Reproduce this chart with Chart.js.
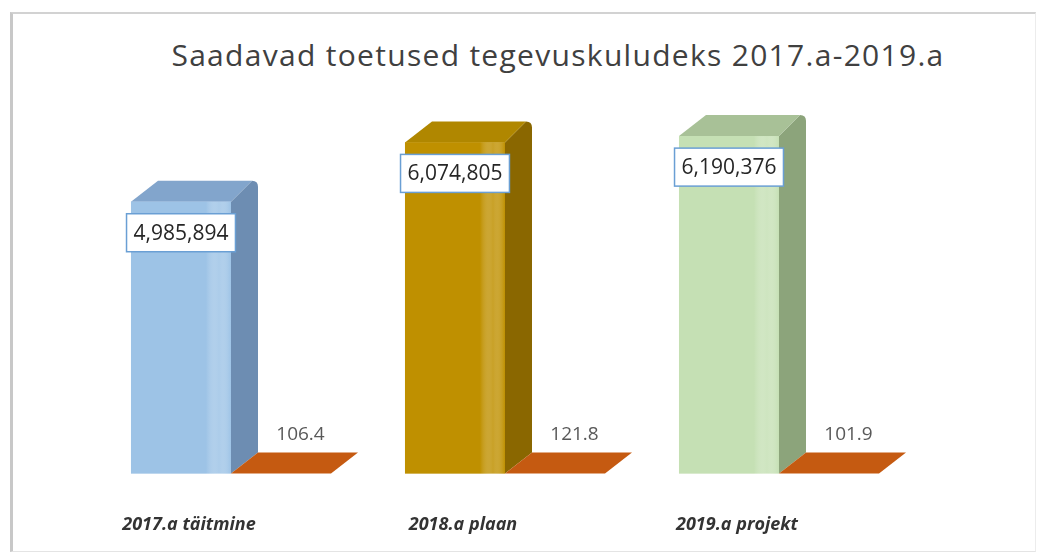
<!DOCTYPE html>
<html>
<head>
<meta charset="utf-8">
<script src="https://cdn.jsdelivr.net/npm/chart.js@4/dist/chart.umd.min.js"></script>
<style>
    html, body { margin: 0; padding: 0; background: #fff; }
    #wrap { position: relative; width: 1043px; height: 557px; overflow: hidden; }
    #frame {
        position: absolute; left: 10px; top: 12px; width: 1022px; height: 537px;
        border-left: 3px solid #c8c8c8; border-top: 2px solid #d2d2d2;
        border-right: 1px solid #ececec; border-bottom: 1px solid #e4e4e4;
    }
    #title {
        position: absolute; left: 558px; top: 34px; transform: translateX(-50%);
        white-space: nowrap; font: 30px "Open Sans", sans-serif; letter-spacing: 1.3px; color: #404040;
    }
    #chart { position: absolute; left: 0; top: 0; }
</style>
</head>
<body>
<div id="wrap">
    <div id="frame"></div>
    <div id="title">Saadavad toetused tegevuskuludeks 2017.a-2019.a</div>
    <canvas id="chart" width="1043" height="597"></canvas>
</div>
<script>
// Chart data
const categories = ['2017.a täitmine', '2018.a plaan', '2019.a projekt'];
const amounts = [4985894, 6074805, 6190376];
const growth = [106.4, 121.8, 101.9];

// Face colours for the 3D bars
const frontColors = ['#9dc3e6', '#bf9000', '#c5e0b4'];
const sideColors = ['#6d8db2', '#8a6700', '#8ca47b'];
const topColors = ['#82a5cc', '#b08700', '#a8c197'];
const growthColor = '#c55a11';

// Draws the bars as simple 3D blocks, using the positions chart.js computed
const bar3d = {
    id: 'bar3d',
    afterDatasetsDraw(chart) {
        const ctx = chart.ctx;
        const dx = 27, dy = -21;

        ctx.save();
        const main = chart.getDatasetMeta(0);
        main.data.forEach((bar, i) => {
            const w = bar.width;
            const l = bar.x - w / 2, r = bar.x + w / 2;
            const top = bar.y, base = bar.base;

            // side face
            ctx.fillStyle = sideColors[i];
            ctx.beginPath();
            ctx.moveTo(r, base);
            ctx.lineTo(r + dx, base + dy);
            ctx.lineTo(r + dx, top + dy + 6);
            ctx.quadraticCurveTo(r + dx, top + dy, r + dx - 6, top + dy);
            ctx.lineTo(r, top);
            ctx.closePath();
            ctx.fill();

            // top face
            ctx.fillStyle = topColors[i];
            ctx.beginPath();
            ctx.moveTo(l, top);
            ctx.lineTo(l + dx, top + dy);
            ctx.lineTo(r + dx - 6, top + dy);
            ctx.lineTo(r, top);
            ctx.closePath();
            ctx.fill();

            // front face with a soft highlight near the right edge
            const g = ctx.createLinearGradient(l, 0, r, 0);
            g.addColorStop(0, frontColors[i]);
            g.addColorStop(0.75, frontColors[i]);
            g.addColorStop(0.88, 'rgba(255,255,255,0.25)');
            g.addColorStop(1, frontColors[i]);
            ctx.fillStyle = frontColors[i];
            ctx.fillRect(l, top, w, base - top);
            ctx.fillStyle = g;
            ctx.globalAlpha = 0.6;
            ctx.fillRect(l, top, w, base - top);
            ctx.globalAlpha = 1;
        });

        // the small growth bars sit flat on the floor
        const small = chart.getDatasetMeta(1);
        small.data.forEach((bar) => {
            const w = bar.width;
            const l = bar.x - w / 2, r = bar.x + w / 2;
            const base = bar.base, top = bar.y;
            ctx.fillStyle = growthColor;
            ctx.beginPath();
            ctx.moveTo(l, base);
            ctx.lineTo(l + dx, top + dy);
            ctx.lineTo(r + dx, top + dy);
            ctx.lineTo(r, base);
            ctx.closePath();
            ctx.fill();
        });

        // value labels
        ctx.font = '21px "Open Sans", sans-serif';
        ctx.textAlign = 'center';
        ctx.textBaseline = 'middle';
        main.data.forEach((bar, i) => {
            const txt = amounts[i].toLocaleString('en-US');
            const tw = ctx.measureText(txt).width;
            const bw = tw + 14, bh = 38;
            const cy = bar.y + 31;
            ctx.fillStyle = '#ffffff';
            ctx.fillRect(bar.x - bw / 2, cy - bh / 2, bw, bh);
            ctx.strokeStyle = '#6a9fd4';
            ctx.lineWidth = 1.5;
            ctx.strokeRect(bar.x - bw / 2, cy - bh / 2, bw, bh);
            ctx.fillStyle = '#262626';
            ctx.fillText(txt, bar.x, cy + 1);
        });

        ctx.font = '19px "Open Sans", sans-serif';
        ctx.fillStyle = '#595959';
        small.data.forEach((bar, i) => {
            ctx.fillText(growth[i].toFixed(1), bar.x + dx / 2 + 6, bar.base - 39);
        });
        ctx.restore();
    }
};

const chart = new Chart(document.getElementById('chart'), {
    type: 'bar',
    data: {
        labels: categories,
        datasets: [
            {
                label: 'Toetused',
                data: amounts,
                backgroundColor: frontColors,
                categoryPercentage: 0.73,
                barPercentage: 1.0
            },
            {
                label: 'Kasv %',
                data: growth,
                backgroundColor: growthColor,
                categoryPercentage: 0.73,
                barPercentage: 1.0
            }
        ]
    },
    options: {
        responsive: false,
        animation: false,
        layout: {
            padding: { left: 94, right: 127, top: 92, bottom: 20 }
        },
        plugins: {
            legend: { display: false },
            tooltip: { enabled: false }
        },
        scales: {
            x: {
                grid: { display: false, drawTicks: false },
                border: { display: false },
                ticks: {
                    color: '#333333',
                    padding: 41,
                    labelOffset: -42,
                    font: { family: 'Open Sans', size: 18, weight: 'bold', style: 'italic' }
                }
            },
            y: {
                display: false,
                min: 0,
                max: 7000000
            }
        }
    },
    plugins: [bar3d]
});
</script>
</body>
</html>
